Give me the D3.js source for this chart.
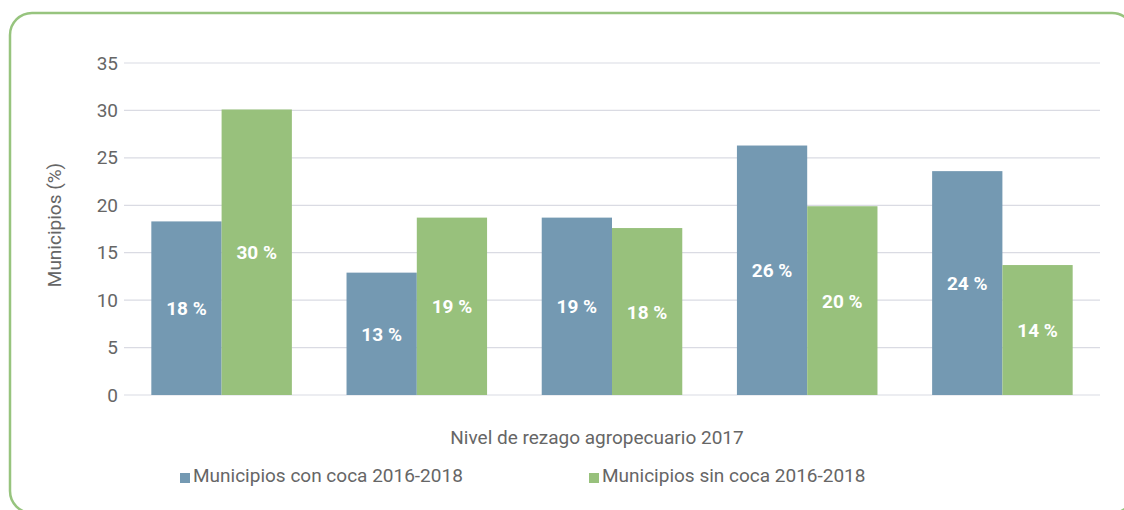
<!DOCTYPE html>
<html>
<head>
<meta charset="utf-8">
<script src="https://cdn.jsdelivr.net/npm/d3@7"></script>
<style>
  html, body { margin: 0; padding: 0; background: #fff; }
  svg { display: block; font-family: Roboto, "Noto Sans", sans-serif; }
</style>
</head>
<body>
<svg id="chart" width="1124" height="510"></svg>
<script>
// Nivel de rezago agropecuario 2017 — five levels, two groups of municipalities
const categories = ["1", "2", "3", "4", "5"];
const seriesNames = ["Municipios con coca 2016-2018", "Municipios sin coca 2016-2018"];
const conCoca = [18.3, 12.9, 18.7, 26.3, 23.6];
const sinCoca = [30.1, 18.7, 17.6, 19.9, 13.7];
const yTicks = [0, 5, 10, 15, 20, 25, 30, 35];
const colors = ["#7499b2", "#98c17c"];

const svg = d3.select("#chart");

// rounded green frame around the panel
svg.append("rect")
  .attr("x", 10).attr("y", 13)
  .attr("width", 1124).attr("height", 500)
  .attr("rx", 22).attr("ry", 22)
  .attr("fill", "none")
  .attr("stroke", "#97c47e")
  .attr("stroke-width", 2.5);

const plot = { left: 124, right: 1100, top: 63, bottom: 395 };

const x = d3.scaleBand()
  .domain(categories)
  .range([plot.left, plot.right])
  .paddingInner(0.28)
  .paddingOuter(0.14);

const sub = d3.scaleBand()
  .domain([0, 1])
  .range([0, x.bandwidth()]);

const y = d3.scaleLinear()
  .domain([0, 35])
  .range([plot.bottom, plot.top]);

// horizontal grid
svg.append("g")
  .selectAll("line")
  .data(yTicks)
  .join("line")
  .attr("x1", plot.left).attr("x2", plot.right)
  .attr("y1", d => y(d)).attr("y2", d => y(d))
  .attr("stroke", "#dadbe3")
  .attr("stroke-width", 1.2);

// y axis labels
const yAxis = svg.append("g")
  .attr("transform", `translate(${plot.left},0)`)
  .call(d3.axisLeft(y).tickValues(yTicks).tickSize(0).tickPadding(6));
yAxis.select(".domain").remove();
yAxis.selectAll("text")
  .attr("font-size", 19)
  .attr("fill", "#666")
  .style("font-family", "Roboto, sans-serif");

// bars
const series = [conCoca, sinCoca];
const groups = svg.append("g")
  .selectAll("g")
  .data(categories)
  .join("g")
  .attr("transform", d => `translate(${x(d)},0)`);

groups.selectAll("rect")
  .data((d, i) => series.map((s, k) => ({ k, v: s[i] })))
  .join("rect")
  .attr("x", d => sub(d.k))
  .attr("width", sub.bandwidth())
  .attr("y", d => y(d.v))
  .attr("height", d => y(0) - y(d.v))
  .attr("fill", d => colors[d.k]);

groups.selectAll("text")
  .data((d, i) => series.map((s, k) => ({ k, v: s[i] })))
  .join("text")
  .attr("x", d => sub(d.k) + sub.bandwidth() / 2)
  .attr("y", d => (y(d.v) + y(0)) / 2 + 7)
  .attr("text-anchor", "middle")
  .attr("font-size", 19)
  .attr("font-weight", 700)
  .attr("fill", "#fff")
  .text(d => Math.round(d.v) + " %");

// axis titles
svg.append("text")
  .attr("transform", `translate(61,${(plot.top + plot.bottom) / 2 - 4}) rotate(-90)`)
  .attr("text-anchor", "middle")
  .attr("font-size", 19)
  .attr("fill", "#666")
  .text("Municipios (%)");

svg.append("text")
  .attr("x", 597).attr("y", 444)
  .attr("text-anchor", "middle")
  .attr("font-size", 19)
  .attr("fill", "#666")
  .text("Nivel de rezago agropecuario 2017");

// legend
const legendX = [180, 589];
const legend = svg.append("g")
  .selectAll("g")
  .data(seriesNames)
  .join("g")
  .attr("transform", (d, i) => `translate(${legendX[i]},482)`);
legend.append("rect")
  .attr("x", 0).attr("y", -9)
  .attr("width", 10).attr("height", 10)
  .attr("fill", (d, i) => colors[i]);
legend.append("text")
  .attr("x", 13).attr("y", 0)
  .attr("font-size", 19)
  .attr("fill", "#666")
  .text(d => d);
</script>
</body>
</html>
